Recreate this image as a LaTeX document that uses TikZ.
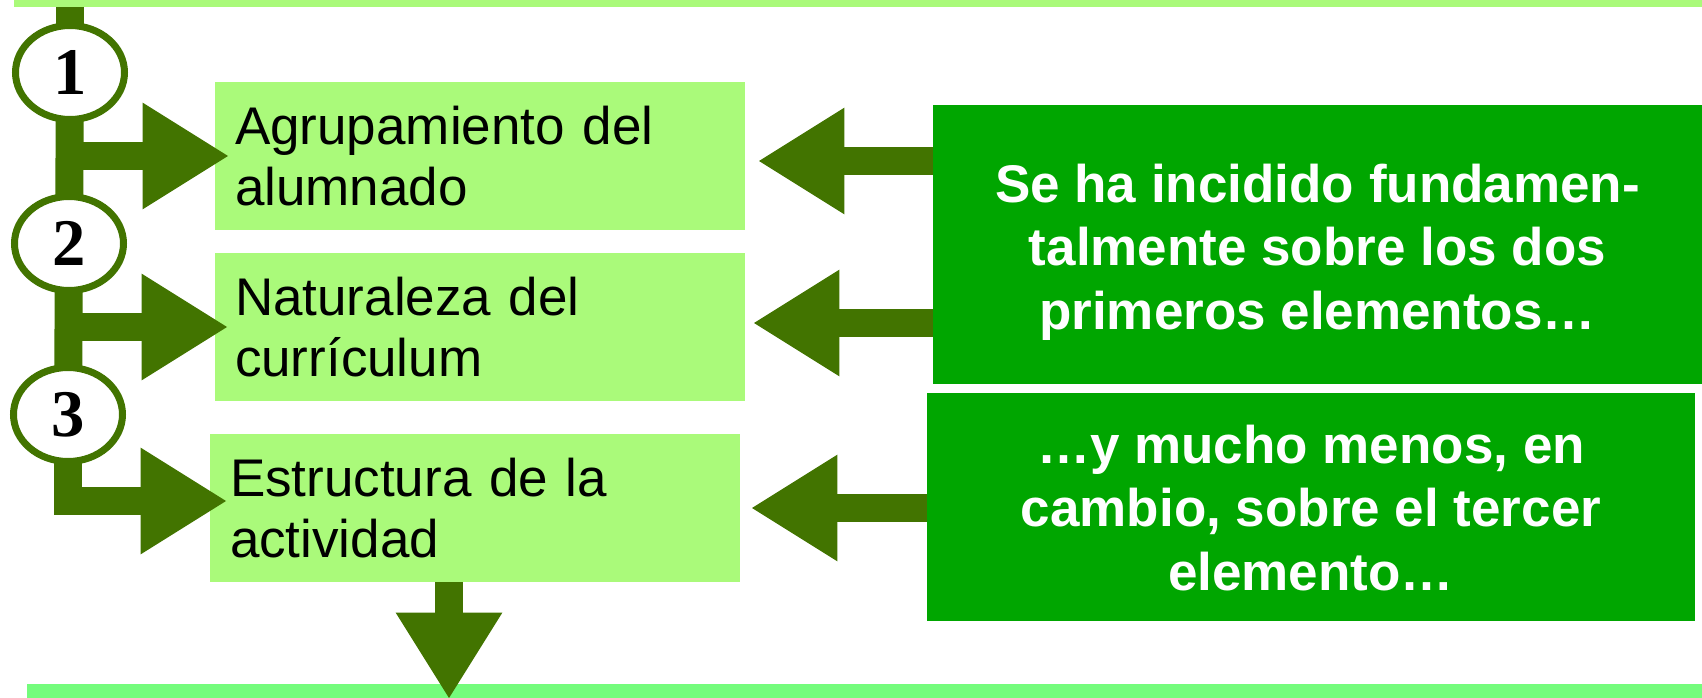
\documentclass[tikz,border=0pt]{standalone}
\usepackage{fontspec}
\setmainfont{Liberation Sans}
\newfontfamily\numfont{Liberation Serif}
\usetikzlibrary{shapes.geometric,arrows.meta}
\tikzset{every picture/.style={line width=0.75pt}}

\begin{document}
\begin{tikzpicture}[x=0.75pt,y=0.75pt,yscale=-1,xscale=1,
  bar/.style={inner sep=0pt, outer sep=0pt},
  lightbox/.style={fill={rgb, 255:red, 170; green, 250; blue, 122 }, inner sep=15pt, outer sep=0pt,
    minimum width=397.5pt, minimum height=111pt, text width=367.5pt, align=left,
    font=\fontsize{39.75}{45.5}\selectfont},
  darkbox/.style={fill={rgb, 255:red, 0; green, 166; blue, 0 }, inner sep=0pt, outer sep=0pt},
  darktext/.style={text=white, align=center, inner sep=0pt,
    font=\bfseries\fontsize{39.75}{47.5}\selectfont},
  numcircle/.style={ellipse, draw={rgb, 255:red, 66; green, 116; blue, 0 }, fill=white,
    line width=5.25pt, minimum width=81.75pt, minimum height=70.5pt, inner sep=0pt,
    font=\numfont\bfseries\fontsize{50}{52}\selectfont},
  spine/.style={draw={rgb, 255:red, 66; green, 116; blue, 0 }, line width=21pt,
    shorten <=-2pt, shorten >=-2pt},
  blockarrow/.style={draw={rgb, 255:red, 66; green, 116; blue, 0 }, line width=21pt,
    -{Triangle[width=80pt,length=64pt,line width=0pt]}}
]
\useasboundingbox (0,0) rectangle (1702,698);

%Shape: Rectangle [top and bottom bars]
\node [bar, fill={rgb, 255:red, 170; green, 250; blue, 122 }, minimum width=1266pt, minimum height=5.25pt] (topbar) at (858,3.5) {};
\node [bar, fill={rgb, 255:red, 116; green, 252; blue, 124 }, minimum width=1256.25pt, minimum height=10.5pt] (botbar) at (864.5,691) {};

%Shape: Rectangle [the three elements]
\node [lightbox] (box1) at (480,156) {Agrupamiento del\\alumnado};
\node [lightbox] (box2) at (480,327) {Naturaleza del\\currículum};
\node [lightbox] (box3) at (475,508) {Estructura de la\\actividad};

%Shape: Rectangle [comments]
\node [darkbox, minimum width=576.75pt, minimum height=209.25pt] (cA) at (1317.5,244.5) {};
\node [darkbox, minimum width=576pt, minimum height=171pt] (cB) at (1311,507) {};
% Text Node
\node [darktext] (tA) at (1317.5,252) {Se ha incidido fundamen-\\talmente sobre los dos\\primeros elementos…};
% Text Node
\node [darktext] (tB) at (1311,508) {…y mucho menos, en\\cambio, sobre el tercer\\elemento…};

%Shape: Ellipse [numbers]
\node [numcircle] (c1) at (70,72.5) {1};
\node [numcircle] (c2) at (69,243.5) {2};
\node [numcircle] (c3) at (68,414.5) {3};

%Straight Lines [spine]
\draw [spine, shorten <=0pt] (topbar.south -| c1) -- (c1);
\draw [spine] (c1) -- (c2);
\draw [spine] (c2) -- (c3);

%Block arrows to the elements
\draw [blockarrow, shorten >=-9.75pt] (c1 |- box1.west) -- (box1.west);
\draw [blockarrow, shorten >=-9pt] (c2 |- box2.west) -- (box2.west);
\draw [blockarrow, shorten <=-2pt, shorten >=-12pt] (c3.south) |- ([yshift=-5.25pt]box3.west);

%Block arrow down
\coordinate (down) at ([xshift=-19.5pt]box3.south);
\draw [blockarrow] (down) -- (down |- botbar.south);

%Block arrows from the comments
\coordinate (in1) at ([yshift=3.75pt]box1.east);
\coordinate (in2) at ([yshift=-3pt]box2.east);
\draw [blockarrow, shorten >=10.5pt] (cA.west |- in1) -- (in1);
\draw [blockarrow, shorten >=6.75pt] (cA.west |- in2) -- (in2);
\draw [blockarrow, shorten >=9pt] (cB.west |- box3.east) -- (box3.east);

\end{tikzpicture}
\end{document}
